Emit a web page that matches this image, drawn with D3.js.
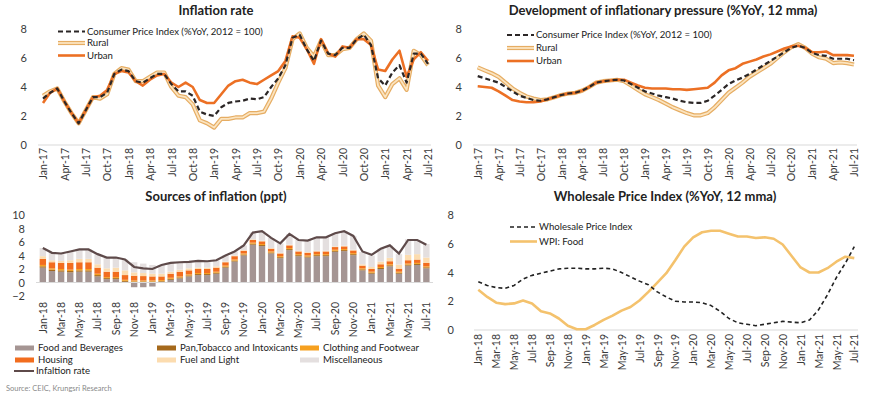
<!DOCTYPE html>
<html><head><meta charset="utf-8">
<script src="https://cdn.jsdelivr.net/npm/d3@7"></script>
<style>
body{margin:0;background:#fff}
svg{display:block;font-family:Lato,"Open Sans",sans-serif}
</style>
</head><body>
<svg id="c" width="870" height="398"></svg>
<script>
// ---------- DATA ----------
const months = ["Jan-17","Feb-17","Mar-17","Apr-17","May-17","Jun-17","Jul-17","Aug-17","Sep-17","Oct-17","Nov-17","Dec-17",
"Jan-18","Feb-18","Mar-18","Apr-18","May-18","Jun-18","Jul-18","Aug-18","Sep-18","Oct-18","Nov-18","Dec-18",
"Jan-19","Feb-19","Mar-19","Apr-19","May-19","Jun-19","Jul-19","Aug-19","Sep-19","Oct-19","Nov-19","Dec-19",
"Jan-20","Feb-20","Mar-20","Apr-20","May-20","Jun-20","Jul-20","Aug-20","Sep-20","Oct-20","Nov-20","Dec-20",
"Jan-21","Feb-21","Mar-21","Apr-21","May-21","Jun-21","Jul-21"];
const months18 = months.slice(12);

// Inflation rate (%YoY)
const cpi = [3.2,3.6,3.9,3.0,2.2,1.5,2.4,3.3,3.3,3.6,4.9,5.2,
5.1,4.4,4.3,4.6,4.9,4.9,4.2,3.7,3.7,3.4,2.3,2.1,
2.0,2.6,2.9,3.0,3.05,3.2,3.15,3.3,4.0,4.6,5.5,7.4,
7.6,6.6,5.8,7.2,6.3,6.2,6.7,6.7,7.3,7.6,6.9,4.6,
4.1,5.0,5.5,4.3,6.3,6.3,5.6];
const rural = [3.4,3.7,3.9,3.0,2.2,1.5,2.4,3.3,3.2,3.5,4.9,5.3,
5.2,4.4,4.4,4.7,5.0,5.0,4.0,3.4,3.3,2.8,1.7,1.5,
1.2,1.8,1.8,1.9,1.9,2.2,2.2,2.3,3.2,4.3,5.3,7.3,
7.7,6.7,6.1,7.2,6.2,6.2,6.6,6.7,7.3,7.7,7.2,4.1,
3.3,4.2,4.6,3.8,6.5,6.2,5.5];
const urban = [2.9,3.6,3.9,3.0,2.2,1.5,2.4,3.3,3.4,3.8,4.9,5.1,
5.0,4.4,4.1,4.5,4.8,4.9,4.3,4.0,4.3,4.0,3.1,2.9,
2.9,3.5,4.1,4.4,4.5,4.3,4.2,4.5,4.8,5.1,5.8,7.5,
7.4,6.6,5.6,7.3,6.3,6.1,6.8,6.7,7.3,7.3,6.9,5.2,
5.1,5.9,6.5,4.7,5.9,6.4,5.8];

// Development of inflationary pressure (%YoY, 12 mma)
const cpi12 = [4.75,4.6,4.45,4.3,4.0,3.7,3.4,3.25,3.1,3.05,3.15,3.3,
3.45,3.55,3.6,3.75,4.0,4.3,4.4,4.45,4.5,4.45,4.2,3.95,
3.7,3.55,3.4,3.3,3.2,3.05,2.95,2.9,2.9,3.05,3.4,3.8,
4.2,4.45,4.65,4.9,5.2,5.5,5.8,6.1,6.4,6.7,6.85,6.7,
6.35,6.2,6.15,5.95,5.95,5.95,5.85];
const rural12 = [5.35,5.15,4.95,4.7,4.3,3.9,3.6,3.35,3.2,3.1,3.15,3.3,
3.45,3.55,3.6,3.75,4.0,4.3,4.4,4.45,4.5,4.4,4.1,3.8,
3.5,3.3,3.1,2.85,2.6,2.4,2.2,2.05,2.05,2.2,2.6,3.1,
3.6,3.95,4.3,4.7,5.0,5.3,5.6,6.0,6.4,6.75,6.95,6.7,
6.3,6.05,5.95,5.65,5.7,5.65,5.55];
const urban12 = [4.05,4.0,3.95,3.7,3.4,3.1,3.0,2.95,2.95,3.0,3.15,3.3,
3.45,3.55,3.6,3.75,4.0,4.3,4.4,4.45,4.5,4.5,4.3,4.1,
3.95,3.9,3.9,3.9,3.85,3.85,3.8,3.85,3.9,3.95,4.3,4.8,
5.15,5.3,5.6,5.75,5.9,6.1,6.25,6.45,6.65,6.8,6.85,6.7,
6.4,6.4,6.45,6.2,6.2,6.2,6.15];

// Sources of inflation (ppt), Jan-18 .. Jul-21
const food = [2.2,1.7,1.6,1.5,1.6,1.6,0.9,0.5,0.5,0.1,-0.7,-0.7,-0.6,0.1,0.4,0.6,0.9,1.1,1.1,1.3,2.2,3.1,4.0,5.6,
5.4,4.3,3.6,4.8,3.9,3.7,3.9,3.9,4.55,4.65,4.05,1.8,1.3,2.0,2.4,1.3,2.5,2.6,2.1];
const pan = [0.2,0.2,0.2,0.2,0.2,0.2,0.2,0.15,0.15,0.15,0.15,0.15,0.15,0.1,0.15,0.15,0.15,0.15,0.15,0.15,0.15,0.15,0.15,0.15,
0.15,0.15,0.15,0.15,0.15,0.15,0.15,0.15,0.15,0.15,0.15,0.15,0.15,0.15,0.15,0.15,0.15,0.15,0.15];
const clothing = [0.2,0.2,0.2,0.2,0.2,0.2,0.2,0.15,0.15,0.15,0.15,0.15,0.15,0.15,0.15,0.15,0.15,0.15,0.15,0.15,0.15,0.15,0.15,0.15,
0.15,0.15,0.15,0.15,0.15,0.15,0.15,0.15,0.15,0.15,0.15,0.15,0.15,0.15,0.15,0.15,0.15,0.15,0.15];
const housing = [0.9,0.9,0.9,1.0,1.0,1.0,0.9,0.8,0.8,0.7,0.7,0.65,0.6,0.55,0.6,0.7,0.6,0.6,0.6,0.6,0.5,0.5,0.4,0.4,
0.4,0.4,0.4,0.4,0.4,0.4,0.4,0.4,0.4,0.4,0.4,0.4,0.4,0.4,0.45,0.45,0.5,0.5,0.5];
const fuel = [0.4,0.3,0.3,0.4,0.5,0.5,0.5,0.5,0.6,0.7,0.5,0.45,0.4,0.4,0.3,0.3,0.3,0.2,0.2,0.2,0.1,0.1,0.1,0.1,
0.1,0.1,0.1,0.1,0.1,0.1,0.1,0.1,0.1,0.1,0.1,0.2,0.3,0.4,0.5,0.6,0.8,0.8,0.8];
const misc = [1.2,1.1,1.1,1.3,1.4,1.4,1.5,1.6,1.5,1.6,1.5,1.4,1.3,1.3,1.3,1.1,0.95,1.0,0.95,0.9,0.9,0.6,0.7,1.0,
1.4,1.5,1.4,1.6,1.6,1.8,2.1,2.0,1.95,2.15,2.05,1.8,1.7,1.9,1.85,1.55,2.3,2.1,2.0];
const inflation = cpi.slice(12);

// Wholesale Price Index (%YoY, 12 mma), Jan-18 .. Jul-21
const wpi = [3.35,3.1,2.95,2.9,3.1,3.55,3.8,3.95,4.1,4.25,4.3,4.3,
4.25,4.25,4.3,4.25,4.0,3.7,3.4,3.15,2.65,2.3,2.0,1.95,
1.95,1.9,1.7,1.3,0.8,0.5,0.4,0.3,0.4,0.5,0.6,0.55,
0.5,0.7,1.4,2.45,3.65,4.65,5.8];
const wpiFood = [2.8,2.3,1.9,1.8,1.85,2.05,1.85,1.3,1.15,0.8,0.3,0.05,
0.05,0.35,0.7,1.0,1.35,1.6,2.05,2.65,3.3,3.95,4.85,5.8,
6.45,6.8,6.9,6.9,6.7,6.5,6.5,6.4,6.45,6.35,5.95,5.15,
4.35,4.0,4.0,4.3,4.75,5.1,5.0];

const ticks8 = [0,2,4,6,8];
const ticks10 = [-2,0,2,4,6,8,10];

// ---------- DRAW ----------
const svg = d3.select("#c");
const TXT = "#3a3a3a", AX = "#d9d9d9", LEGFS = 9.6;
const C = {cpi:"#2b2626", rural:"#e6ad63", ruralIn:"#fbe4c0", urban:"#ec7024",
  food:"#a59593", pan:"#a5691c", clothing:"#f6a01f", housing:"#f26d1e", fuel:"#fcdcaf", misc:"#e4dfdf",
  infl:"#5e4a4a", wpi:"#222", wpiFood:"#f4c26d"};

function title(x, y, t){
  svg.append("text").attr("x",x).attr("y",y).attr("text-anchor","middle")
    .attr("font-size",13).attr("font-weight","bold").attr("fill","#222").text(t);
}
function yAxis(y, xPos, vals){
  const g = svg.append("g").attr("transform",`translate(${xPos},0)`)
    .call(d3.axisLeft(y).tickValues(vals).tickSize(0).tickPadding(0).tickFormat(d3.format("d")));
  g.select(".domain").remove();
  g.selectAll("text").attr("font-size",11).attr("fill",TXT).attr("font-family","Lato,sans-serif");
}
function xAxisRot(x, yPos, vals){
  const g = svg.append("g").attr("transform",`translate(0,${yPos})`)
    .call(d3.axisBottom(x).tickValues(vals).tickSize(0));
  g.select(".domain").remove();
  g.selectAll("text").attr("transform","rotate(-90)").attr("x",-2).attr("y",0).attr("dy","0.35em")
    .style("text-anchor","end").attr("font-size",10.5).attr("fill",TXT).attr("font-family","Lato,sans-serif");
}
function baseline(x0, x1, y){
  svg.append("line").attr("x1",x0).attr("x2",x1).attr("y1",y).attr("y2",y).attr("stroke",AX).attr("stroke-width",1);
}
function drawLine(x, y, cats, vals, color, w, dash){
  const l = d3.line().x((d,i)=>x(cats[i])).y(d=>y(d));
  const p = svg.append("path").datum(vals).attr("d",l).attr("fill","none").attr("stroke",color)
    .attr("stroke-width",w).attr("stroke-linejoin","round");
  if(dash) p.attr("stroke-dasharray",dash);
}
function drawRural(x, y, cats, vals){
  drawLine(x,y,cats,vals,C.rural,4.2);
  drawLine(x,y,cats,vals,C.ruralIn,1.8);
}
function legendLines(x0, ys, items){
  items.forEach((it,i)=>{
    const yy = ys[i];
    if(it.type==="rural"){
      svg.append("line").attr("x1",x0).attr("x2",x0+27).attr("y1",yy).attr("y2",yy).attr("stroke",C.rural).attr("stroke-width",4.2);
      svg.append("line").attr("x1",x0).attr("x2",x0+27).attr("y1",yy).attr("y2",yy).attr("stroke",C.ruralIn).attr("stroke-width",1.8);
    } else {
      const l = svg.append("line").attr("x1",x0).attr("x2",x0+27).attr("y1",yy).attr("y2",yy).attr("stroke",it.color).attr("stroke-width",it.w);
      if(it.dash) l.attr("stroke-dasharray",it.dash);
    }
    svg.append("text").attr("x",x0+29).attr("y",yy).attr("dy","0.35em").attr("font-size",LEGFS).attr("fill","#222").text(it.label);
  });
}

// ----- Chart 1: Inflation rate -----
{
  const x = d3.scalePoint().domain(months).range([43,428]);
  const y = d3.scaleLinear().domain([0,8]).range([145,29]);
  title(216,15,"Inflation rate");
  yAxis(y,27,ticks8);
  baseline(38,431,y(0));
  xAxisRot(x,146,months.filter((d,i)=>i%3===0));
  drawRural(x,y,months,rural);
  drawLine(x,y,months,urban,C.urban,2.6);
  drawLine(x,y,months,cpi,C.cpi,2.2,"5,3");
  legendLines(58,[31.5,43,55.5],[
    {label:"Consumer Price Index (%YoY, 2012 = 100)",color:C.cpi,w:2.2,dash:"5,3"},
    {label:"Rural",type:"rural"},
    {label:"Urban",color:C.urban,w:2.6}]);
}

// ----- Chart 2: Development of inflationary pressure -----
{
  const x = d3.scalePoint().domain(months).range([477.7,854]);
  const y = d3.scaleLinear().domain([0,8]).range([145,29]);
  title(663,15,"Development of inflationary pressure (%YoY, 12 mma)");
  yAxis(y,462,ticks8);
  baseline(473,857,y(0));
  xAxisRot(x,146,months.filter((d,i)=>i%3===0));
  drawRural(x,y,months,rural12);
  drawLine(x,y,months,urban12,C.urban,2.6);
  drawLine(x,y,months,cpi12,C.cpi,2.2,"5,3");
  legendLines(507,[35,48,61],[
    {label:"Consumer Price Index (%YoY, 2012 = 100)",color:C.cpi,w:2.2,dash:"5,3"},
    {label:"Rural",type:"rural"},
    {label:"Urban",color:C.urban,w:2.6}]);
}

// ----- Chart 3: Sources of inflation -----
{
  const keys = ["food","pan","clothing","housing","fuel","misc"];
  const rows = months18.map((m,i)=>({m, food:food[i], pan:pan[i], clothing:clothing[i], housing:housing[i], fuel:fuel[i], misc:misc[i]}));
  const x = d3.scaleBand().domain(months18).range([36.9,432.3]).padding(0.3);
  const y = d3.scaleLinear().domain([-2,10]).range([296,215]);
  title(216,201,"Sources of inflation (ppt)");
  yAxis(y,25,ticks10);
  const series = d3.stack().keys(keys).offset(d3.stackOffsetDiverging)(rows);
  svg.append("g").selectAll("g").data(series).join("g").attr("fill",d=>C[d.key])
    .selectAll("rect").data(d=>d).join("rect")
    .attr("x",d=>x(d.data.m)).attr("width",x.bandwidth())
    .attr("y",d=>y(Math.max(d[0],d[1]))).attr("height",d=>Math.abs(y(d[0])-y(d[1])));
  baseline(36,433,y(0));
  const xc = d=>x(d)+x.bandwidth()/2;
  svg.append("path").datum(inflation).attr("fill","none").attr("stroke",C.infl).attr("stroke-width",2.2)
    .attr("d",d3.line().x((d,i)=>xc(months18[i])).y(d=>y(d)));
  const g = svg.append("g").attr("transform","translate(0,300)")
    .call(d3.axisBottom(x).tickValues(months18.filter((d,i)=>i%2===0)).tickSize(0));
  g.select(".domain").remove();
  g.selectAll("text").attr("transform","rotate(-90)").attr("x",-2).attr("y",0).attr("dy","0.35em")
    .style("text-anchor","end").attr("font-size",10.5).attr("fill",TXT).attr("font-family","Lato,sans-serif");

  // legend
  const leg = [
    {k:"food",label:"Food and Beverages",x:15,y:348},
    {k:"pan",label:"Pan,Tobacco and Intoxicants",x:157,y:348},
    {k:"clothing",label:"Clothing and Footwear",x:300,y:348},
    {k:"housing",label:"Housing",x:15,y:360},
    {k:"fuel",label:"Fuel and Light",x:157,y:360},
    {k:"misc",label:"Miscellaneous",x:300,y:360}];
  leg.forEach(l=>{
    svg.append("rect").attr("x",l.x).attr("y",l.y-2.5).attr("width",19).attr("height",5).attr("fill",C[l.k]);
    svg.append("text").attr("x",l.x+23).attr("y",l.y).attr("dy","0.35em").attr("font-size",LEGFS).attr("fill","#222").text(l.label);
  });
  svg.append("line").attr("x1",14).attr("x2",34).attr("y1",371).attr("y2",371).attr("stroke",C.infl).attr("stroke-width",2);
  svg.append("text").attr("x",36).attr("y",371).attr("dy","0.35em").attr("font-size",LEGFS).attr("fill","#222").text("Infaltion rate");
  svg.append("text").attr("x",6).attr("y",391).attr("font-size",7.5).attr("fill","#8a8a8a").text("Source: CEIC, Krungsri Research");
}

// ----- Chart 4: WPI -----
{
  const x = d3.scalePoint().domain(months18).range([478.3,854.3]);
  const y = d3.scaleLinear().domain([0,8]).range([330,215]);
  title(665,201,"Wholesale Price Index (%YoY, 12 mma)");
  yAxis(y,454,ticks8);
  baseline(474,858,y(0));
  xAxisRot(x,332,months18.filter((d,i)=>i%2===0));
  drawLine(x,y,months18,wpiFood,C.wpiFood,2.6);
  drawLine(x,y,months18,wpi,C.wpi,1.6,"4,3");
  legendLines(510,[227,241.5],[
    {label:"Wholesale Price Index",color:C.wpi,w:1.6,dash:"4,3"},
    {label:"WPI: Food",color:C.wpiFood,w:2.6}]);
}
</script>
</body></html>
